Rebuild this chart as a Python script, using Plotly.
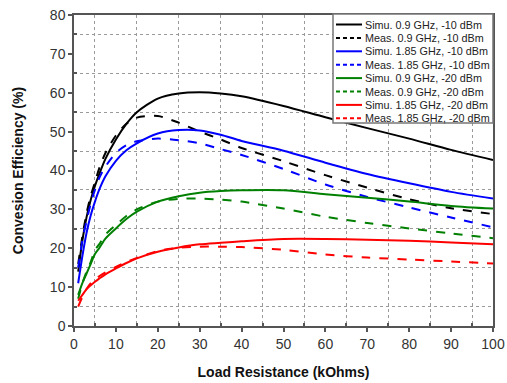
import plotly.graph_objects as go

x = [1, 2, 3, 4, 5, 6, 7.5, 10, 12.5, 15, 20, 25, 30, 35, 40, 50, 60, 70, 80, 90, 100]

simu_09_10 = [14, 22, 28, 32.5, 36, 39, 43, 48, 52, 55, 58.5, 59.8, 60.1, 59.8, 59.1, 56.6, 53.7, 50.9, 48.2, 45.3, 42.7]
meas_09_10 = [16, 23, 29, 33.5, 37, 40.5, 44.5, 49, 52, 53.6, 54, 52.3, 50, 48, 45.8, 42.4, 38.8, 35.6, 32.6, 30.3, 28.8]
simu_185_10 = [11, 18, 24, 28.5, 32, 35, 38.5, 42.5, 45.2, 47, 49.5, 50.4, 50.3, 49.2, 47.6, 45.1, 42, 39.1, 36.7, 34.5, 32.8]
meas_185_10 = [15, 22, 27, 31.5, 35, 38, 41, 44.5, 46.5, 47.5, 48.2, 47.8, 47, 45.5, 44, 40.4, 36.4, 33.2, 30.5, 27.9, 25.4]
simu_09_20 = [8, 11, 13.5, 16, 18.5, 20, 22.5, 25.1, 27.5, 29.4, 32, 33.4, 34.3, 34.7, 34.9, 34.9, 33.9, 33, 32, 30.9, 30.2]
meas_09_20 = [7, 11, 14, 16.5, 19.5, 21, 23.5, 26, 28.3, 30, 32, 32.7, 32.8, 32.5, 32, 30.2, 28.1, 26.5, 25.1, 23.8, 22.6]
simu_185_20 = [6.5, 8, 9.5, 10.5, 11.4, 12.2, 13.3, 14.8, 16.2, 17.4, 19.1, 20.2, 21, 21.4, 21.8, 22.4, 22.4, 22.2, 21.9, 21.5, 21]
meas_185_20 = [5, 7.5, 9.5, 11, 12, 12.8, 13.8, 15.2, 16.5, 17.5, 19.3, 20.1, 20.4, 20.4, 20.3, 19.6, 18.4, 17.6, 17.1, 16.6, 16.1]

x_ticks = [0, 10, 20, 30, 40, 50, 60, 70, 80, 90, 100]
y_ticks = [0, 10, 20, 30, 40, 50, 60, 70, 80]
x_grid = [5, 15, 25, 35, 45, 55, 65, 75, 85, 95]
y_grid = [5, 15, 25, 35, 45, 55, 65, 75]

series = [
    ("Simu. 0.9 GHz, -10 dBm", simu_09_10, "#000000", "solid"),
    ("Meas. 0.9 GHz, -10 dBm", meas_09_10, "#000000", "dash"),
    ("Simu. 1.85 GHz, -10 dBm", simu_185_10, "#0000ff", "solid"),
    ("Meas. 1.85 GHz, -10 dBm", meas_185_10, "#0000ff", "dash"),
    ("Simu. 0.9 GHz, -20 dBm", simu_09_20, "#008000", "solid"),
    ("Meas. 0.9 GHz, -20 dBm", meas_09_20, "#008000", "dash"),
    ("Simu. 1.85 GHz, -20 dBm", simu_185_20, "#ff0000", "solid"),
    ("Meas. 1.85 GHz, -20 dBm", meas_185_20, "#ff0000", "dash"),
]

FONT = "Arial, Liberation Sans, sans-serif"

fig = go.Figure()
for name, ys, color, dash in series:
    fig.add_trace(go.Scatter(
        x=x, y=ys, name=name, mode="lines", showlegend=False,
        line=dict(color=color, width=2, dash=dash, shape="spline", smoothing=0.8),
    ))

def axis_style(tickvals, gridvals):
    return dict(
        tickvals=tickvals, automargin=False, ticklabeloverflow="allow",
        showline=True, linecolor="#555555", linewidth=1.5, mirror=True,
        ticks="outside", ticklen=4, tickcolor="#555555", tickwidth=1.5,
        showgrid=False, zeroline=False,
        tickfont=dict(family=FONT, size=14, color="#333333"),
        minor=dict(tickvals=gridvals, showgrid=True, gridcolor="#9a9a9a",
                   griddash="dot", gridwidth=1,
                   ticks="inside", ticklen=3, tickcolor="#555555"),
    )

fig.update_xaxes(range=[0, 100], **axis_style(x_ticks, x_grid),
                 title=dict(text="<b>Load Resistance (kOhms)</b>", standoff=17,
                            font=dict(family=FONT, size=14, color="#111111")))
fig.update_yaxes(range=[0, 80], **axis_style(y_ticks, y_grid),
                 title=dict(text="<b>Convesion Efficiency (%)</b>", standoff=23,
                            font=dict(family=FONT, size=14, color="#111111")))

# Custom compact legend (paper coords; plot area 74..493 x 15..326 px)
W, H = 419.0, 311.0
def px(xp):
    return (xp - 74) / W
def py(yp):
    return (326 - yp) / H

shapes = [dict(type="rect", xref="paper", yref="paper",
               x0=px(333), x1=px(493), y0=py(123), y1=py(14),
               fillcolor="white", line=dict(color="#777777", width=1.5), layer="above")]
annotations = []
for i, (name, ys, color, dash) in enumerate(series):
    yc = 24.5 + i * 13.4
    shapes.append(dict(type="line", xref="paper", yref="paper",
                       x0=px(336), x1=px(362), y0=py(yc), y1=py(yc),
                       line=dict(color=color, width=2, dash="solid" if dash == "solid" else "4px,3px"),
                       layer="above"))
    annotations.append(dict(xref="paper", yref="paper", x=px(363), y=py(yc),
                            xanchor="left", yanchor="middle", showarrow=False,
                            text=name, font=dict(family=FONT, size=10.8, color="#222222")))

fig.update_layout(
    width=507, height=383,
    margin=dict(l=74, r=14, t=15, b=57),
    paper_bgcolor="white", plot_bgcolor="white",
    showlegend=False,
    shapes=shapes, annotations=annotations,
)

fig.write_html("out.html",
               config={"displayModeBar": False},
               post_script="document.body.style.margin='0';document.body.style.overflow='hidden';")
